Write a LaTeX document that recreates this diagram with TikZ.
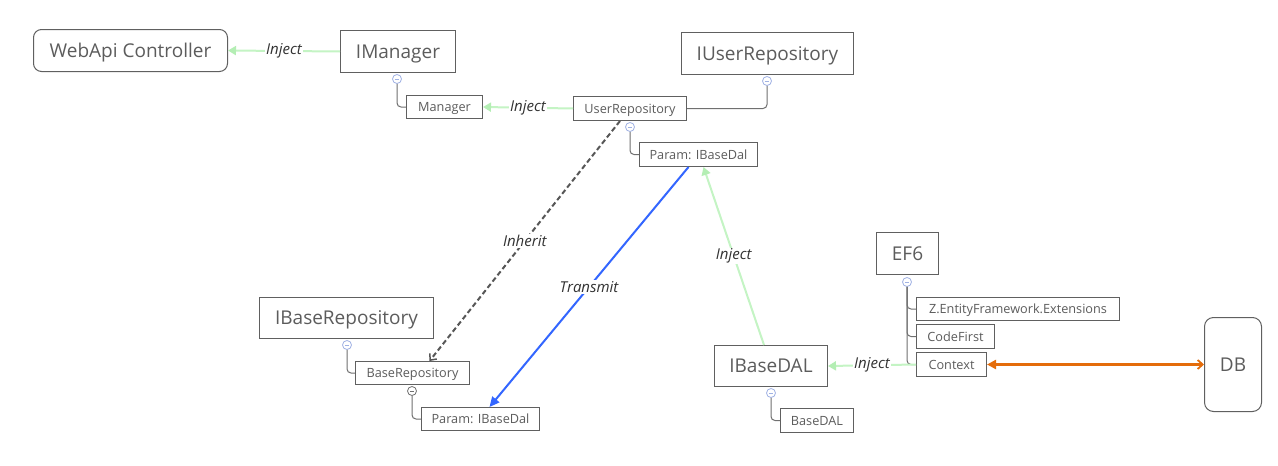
\documentclass[tikz,border=0pt]{standalone}
\usepackage{fontspec}
\setmainfont{Open Sans}
\usetikzlibrary{arrows.meta,calc}
\definecolor{bordergray}{RGB}{96,96,96}
\definecolor{txtgray}{RGB}{92,92,92}
\definecolor{lblgray}{RGB}{50,50,50}
\definecolor{injgreen}{RGB}{196,244,196}
\definecolor{injhead}{RGB}{180,238,180}
\definecolor{tblue}{RGB}{51,102,255}
\definecolor{dborange}{RGB}{228,108,10}
\definecolor{circblue}{RGB}{160,178,228}
\definecolor{treegray}{RGB}{112,112,112}
\tikzset{
  bigbox/.style={draw=bordergray, line width=1pt, text=txtgray, inner sep=0pt, anchor=north west,
    text height=17pt, text depth=4pt, font=\fontsize{19}{21}\selectfont},
  smallbox/.style={draw=bordergray, line width=1pt, text=txtgray, inner sep=0pt, anchor=north west,
    text height=12pt, text depth=3pt, font=\fontsize{12.7}{14}\selectfont},
  lbl/.style={font=\itshape\fontsize{15}{17}\selectfont, text=lblgray, fill=white, inner sep=1pt},
  collapse/.style={circle, draw=circblue, fill=white, line width=0.8pt, minimum size=9pt, inner sep=0pt,
    path picture={\draw[circblue, line width=0.8pt] ([xshift=-2.2pt]path picture bounding box.center) -- ([xshift=2.2pt]path picture bounding box.center);}},
  collapsegray/.style={collapse, draw=treegray,
    path picture={\draw[treegray, line width=0.8pt] ([xshift=-2.2pt]path picture bounding box.center) -- ([xshift=2.2pt]path picture bounding box.center);}},
  tree/.style={draw=treegray, line width=1pt, rounded corners=4pt},
  inj/.style={draw=injgreen, line width=2pt, -{Triangle[length=8pt,width=9pt,color=injhead]}},
  inherit/.style={draw=black!66, line width=2pt, dash pattern=on 5pt off 3pt, -{Straight Barb[length=5pt,width=9pt,line width=1.5pt]}},
  transmit/.style={draw=tblue, line width=2pt, -{Triangle[length=10pt,width=9pt]}},
  dblink/.style={draw=dborange, line width=2.5pt, {Triangle[length=9pt,width=9pt]}-{Straight Barb[length=5pt,width=9pt,line width=1.8pt]}}
}
\begin{document}
\begin{tikzpicture}[x=1pt,y=-1pt]
\useasboundingbox[fill=white] (0,0) rectangle (1278,466);

% main nodes
\node[bigbox, rounded corners=8pt, minimum width=194pt, minimum height=42pt] (web) at (33,29) {WebApi Controller};
\node[bigbox, minimum width=115pt, minimum height=42pt] (imgr) at (340,30) {IManager};
\node[smallbox, minimum width=76pt, minimum height=23pt] (mgr) at (406,95) {Manager};
\node[smallbox, minimum width=113pt, minimum height=24pt] (userrepo) at (573,96) {UserRepository};
\node[bigbox, minimum width=172pt, minimum height=42pt] (iuser) at (681,32) {IUserRepository};
\node[smallbox, minimum width=118pt, minimum height=24pt] (paramtop) at (639,142) {Param: IBaseDal};
\node[bigbox, minimum width=174pt, minimum height=41pt] (ibaserepo) at (259,297) {IBaseRepository};
\node[smallbox, minimum width=114pt, minimum height=23pt] (baserepo) at (355,361) {BaseRepository};
\node[smallbox, minimum width=118pt, minimum height=23pt] (parambot) at (421,407) {Param: IBaseDal};
\node[bigbox, minimum width=113pt, minimum height=41pt] (ibasedal) at (714,345) {IBaseDAL};
\node[smallbox, minimum width=73pt, minimum height=24pt] (basedal) at (780,408) {BaseDAL};
\node[bigbox, minimum width=62pt, minimum height=42pt] (ef6) at (876,232) {EF6};
\node[smallbox, minimum width=203pt, minimum height=23pt] (zef) at (916,297) {Z.EntityFramework.Extensions};
\node[smallbox, minimum width=78pt, minimum height=24pt] (codefirst) at (916,324) {CodeFirst};
\node[smallbox, minimum width=70pt, minimum height=24pt] (context) at (916,352) {Context};
\node[bigbox, rounded corners=9pt, minimum width=57pt, minimum height=94pt] (db) at (1204,317) {DB};

% collapse markers
\node[collapse] (c1) at (397,79) {};
\node[collapse] (c2) at (767,81) {};
\node[collapse] (c3) at (630,127) {};
\node[collapse] (c4) at (347,345) {};
\node[collapsegray] (c5) at (412,391) {};
\node[collapse] (c6) at (771,393) {};
\node[collapse] (c7) at (907,282) {};

% tree connectors
\draw[tree] (c1.south) |- (mgr.west);
\draw[tree] (c2.south) |- (userrepo.east);
\draw[tree] (c3.south) |- (paramtop.west);
\draw[tree] (c4.south) |- (baserepo.west);
\draw[tree] (c5.south) |- (parambot.west);
\draw[tree] (c6.south) |- (basedal.west);
\draw[tree] (c7.south) |- (context.west);
\draw[tree] (c7.south) |- (zef.west);
\draw[tree] (c7.south) |- (codefirst.west);

% relations
\draw[inj] (imgr.west) -- node[lbl] {Inject} (web.east);
\draw[inj] (userrepo.west) -- node[lbl] {Inject} (mgr.east);
\draw[inj] (context.west) -- node[lbl] {Inject} (ibasedal.east);
\draw[inj] ([xshift=-7pt]ibasedal.north) -- node[lbl] {Inject} ([xshift=5pt]paramtop.south);
\draw[inherit] ([xshift=-10pt]userrepo.south) -- node[lbl] {Inherit} ([xshift=17pt]baserepo.north);
\draw[transmit] ([xshift=-10pt]paramtop.south) -- node[lbl] {Transmit} ([xshift=9pt]parambot.north);
\draw[dblink] (context.east) -- (db.west);
\end{tikzpicture}
\end{document}
